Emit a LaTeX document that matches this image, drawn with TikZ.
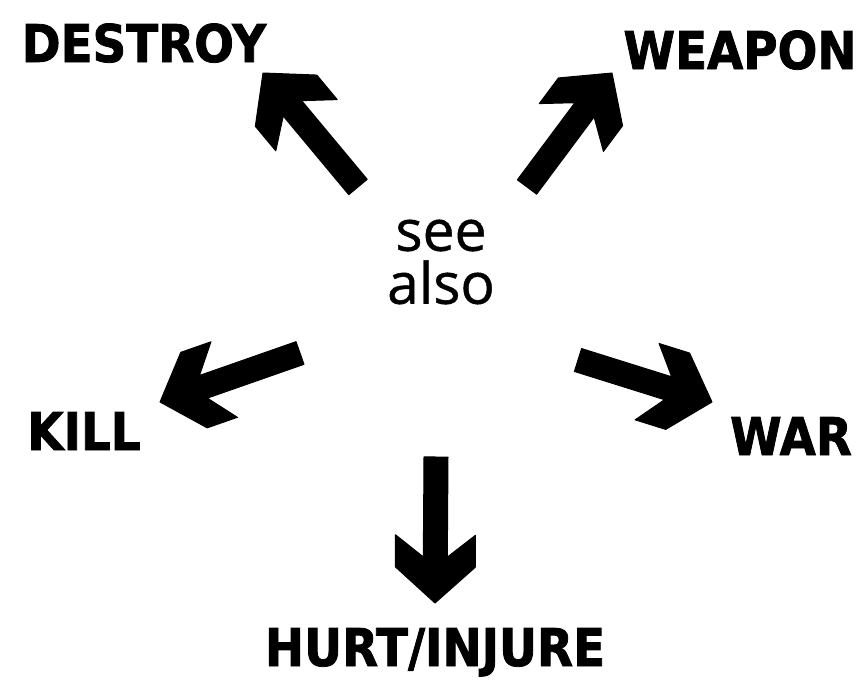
\documentclass[tikz,border=0pt]{standalone}
\usepackage{fontspec}
\usetikzlibrary{calc}
\newfontfamily\labfont{DejaVu Sans}[FakeStretch=0.9, FakeBold=1.5]
\newfontfamily\seefont{Open Sans}[FakeBold=0.8]
\tikzset{
  lab/.style={font=\labfont\bfseries\fontsize{52}{52}\selectfont, inner sep=0pt, anchor=base},
  centre/.style={font=\seefont\fontsize{57}{53}\selectfont, align=center, inner sep=0pt},
  fat/.style={fill=black, draw=black, line width=1pt, line join=round},
}
\newcommand\fatarrow[2]{%
  \filldraw[fat] ($(#1)!12pt!90:(#2)$)
    -- ($(#2)!46pt!(#1)!12pt!-90:(#1)$)
    -- ($(#2)!68pt!(#1)!40pt!-90:(#1)$)
    -- ($(#2)!36pt!(#1)!40pt!-90:(#1)$)
    -- (#2)
    -- ($(#2)!36pt!(#1)!40pt!90:(#1)$)
    -- ($(#2)!68pt!(#1)!40pt!90:(#1)$)
    -- ($(#2)!46pt!(#1)!12pt!90:(#1)$)
    -- ($(#1)!12pt!-90:(#2)$)
    -- cycle;}
\begin{document}
\begin{tikzpicture}[x=1pt,y=-1pt]
  \useasboundingbox (0,0) rectangle (865,680);
  \node[centre] (c) at (441,262) {see\\also};
  \node[lab] (destroy) at (144,62) {DESTROY};
  \node[lab] (weapon) at (740,69) {WEAPON};
  \node[lab] (kill) at (84,450) {KILL};
  \node[lab] (war) at (791,455) {WAR};
  \node[lab] (hurt) at (435,666) {HURT/INJURE};
  \coordinate (t1) at (358,187); \coordinate (h1) at (263,73);
  \coordinate (t2) at (527,187); \coordinate (h2) at (612,73);
  \coordinate (t3) at (300,353); \coordinate (h3) at (160,402);
  \coordinate (t4) at (578,360); \coordinate (h4) at (712,402);
  \coordinate (t5) at (436,457); \coordinate (h5) at (435,603);
  \fatarrow{t1}{h1}
  \fatarrow{t2}{h2}
  \fatarrow{t3}{h3}
  \fatarrow{t4}{h4}
  \fatarrow{t5}{h5}
\end{tikzpicture}
\end{document}
